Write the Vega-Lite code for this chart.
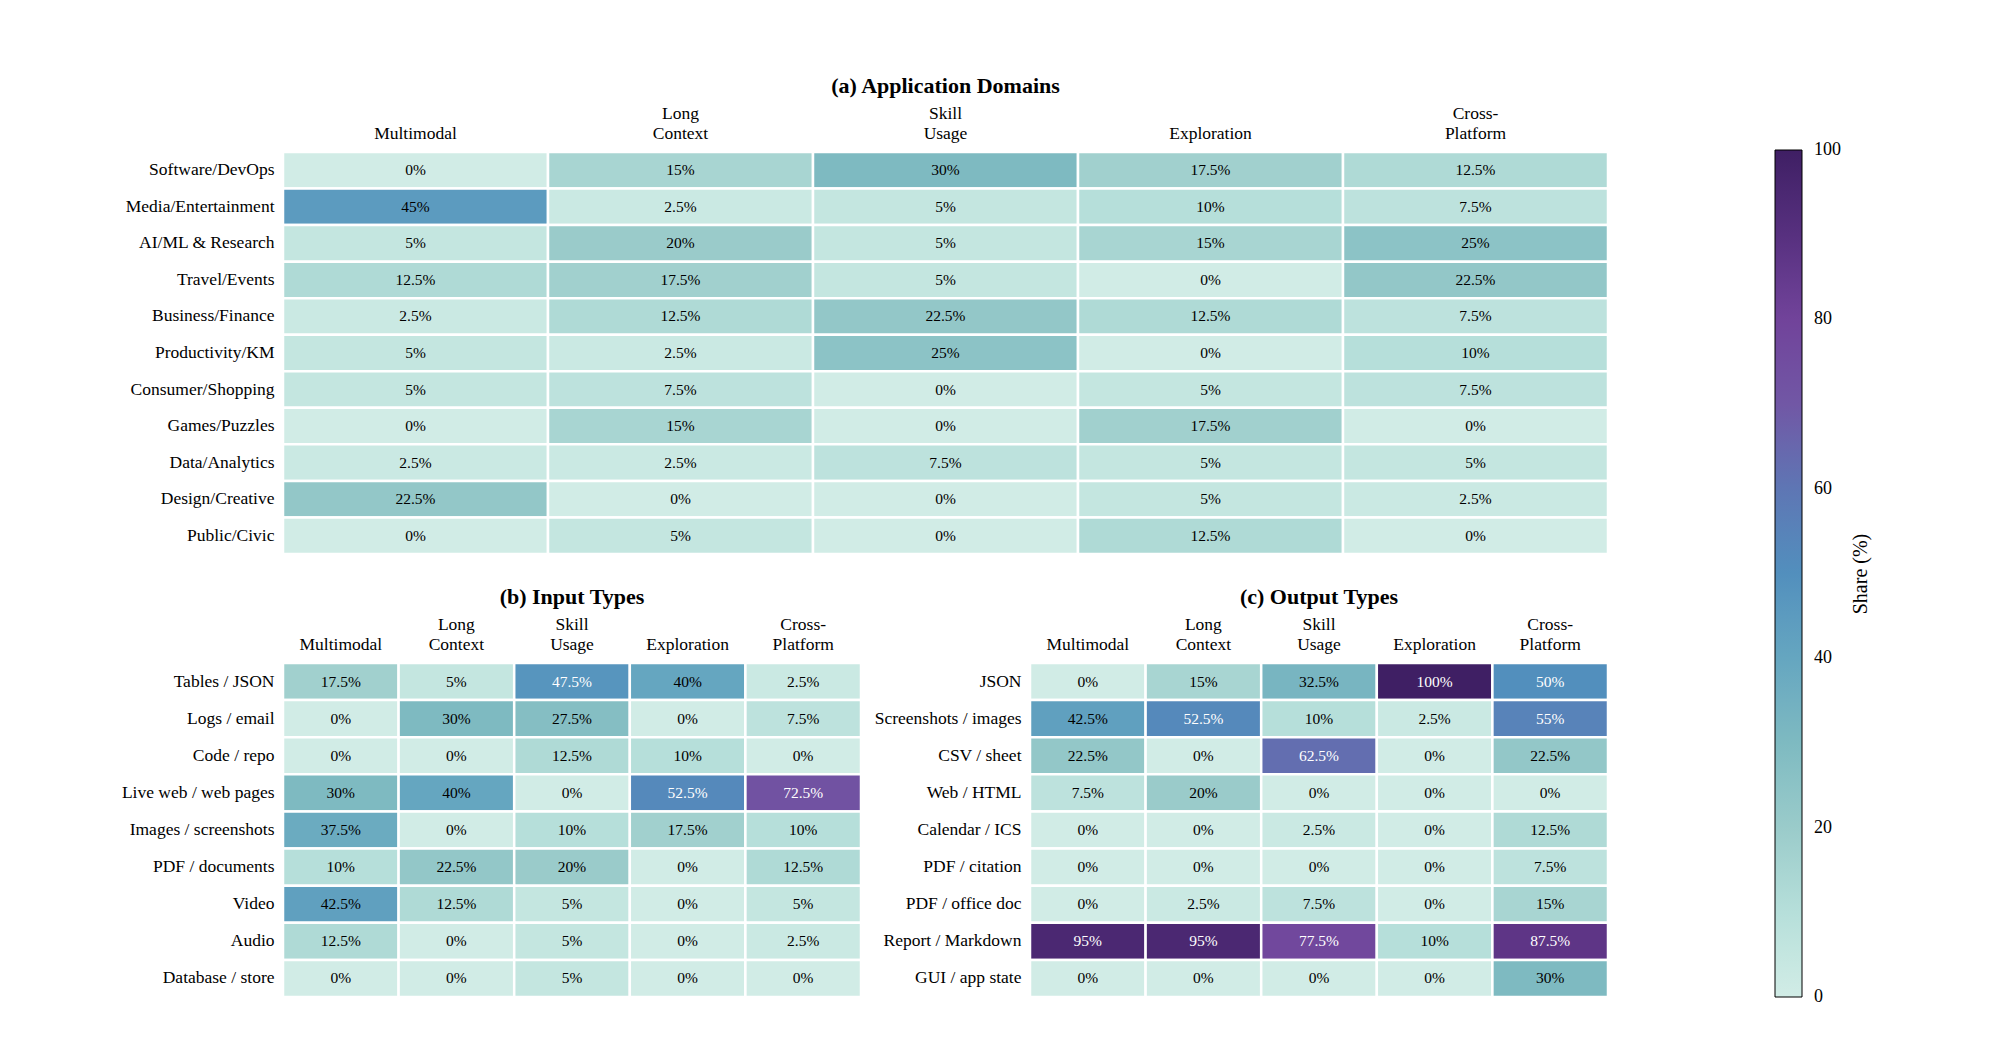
{
  "$schema": "https://vega.github.io/schema/vega-lite/v6.json",
  "background": "white",
  "padding": {"left": 121, "top": 75, "right": 10, "bottom": 10},
  "datasets": {
    "domains": [
      {"r": "Software/DevOps", "c": "Multimodal", "v": 0},
      {"r": "Software/DevOps", "c": "Long Context", "v": 15},
      {"r": "Software/DevOps", "c": "Skill Usage", "v": 30},
      {"r": "Software/DevOps", "c": "Exploration", "v": 17.5},
      {"r": "Software/DevOps", "c": "Cross-Platform", "v": 12.5},
      {"r": "Media/Entertainment", "c": "Multimodal", "v": 45},
      {"r": "Media/Entertainment", "c": "Long Context", "v": 2.5},
      {"r": "Media/Entertainment", "c": "Skill Usage", "v": 5},
      {"r": "Media/Entertainment", "c": "Exploration", "v": 10},
      {"r": "Media/Entertainment", "c": "Cross-Platform", "v": 7.5},
      {"r": "AI/ML & Research", "c": "Multimodal", "v": 5},
      {"r": "AI/ML & Research", "c": "Long Context", "v": 20},
      {"r": "AI/ML & Research", "c": "Skill Usage", "v": 5},
      {"r": "AI/ML & Research", "c": "Exploration", "v": 15},
      {"r": "AI/ML & Research", "c": "Cross-Platform", "v": 25},
      {"r": "Travel/Events", "c": "Multimodal", "v": 12.5},
      {"r": "Travel/Events", "c": "Long Context", "v": 17.5},
      {"r": "Travel/Events", "c": "Skill Usage", "v": 5},
      {"r": "Travel/Events", "c": "Exploration", "v": 0},
      {"r": "Travel/Events", "c": "Cross-Platform", "v": 22.5},
      {"r": "Business/Finance", "c": "Multimodal", "v": 2.5},
      {"r": "Business/Finance", "c": "Long Context", "v": 12.5},
      {"r": "Business/Finance", "c": "Skill Usage", "v": 22.5},
      {"r": "Business/Finance", "c": "Exploration", "v": 12.5},
      {"r": "Business/Finance", "c": "Cross-Platform", "v": 7.5},
      {"r": "Productivity/KM", "c": "Multimodal", "v": 5},
      {"r": "Productivity/KM", "c": "Long Context", "v": 2.5},
      {"r": "Productivity/KM", "c": "Skill Usage", "v": 25},
      {"r": "Productivity/KM", "c": "Exploration", "v": 0},
      {"r": "Productivity/KM", "c": "Cross-Platform", "v": 10},
      {"r": "Consumer/Shopping", "c": "Multimodal", "v": 5},
      {"r": "Consumer/Shopping", "c": "Long Context", "v": 7.5},
      {"r": "Consumer/Shopping", "c": "Skill Usage", "v": 0},
      {"r": "Consumer/Shopping", "c": "Exploration", "v": 5},
      {"r": "Consumer/Shopping", "c": "Cross-Platform", "v": 7.5},
      {"r": "Games/Puzzles", "c": "Multimodal", "v": 0},
      {"r": "Games/Puzzles", "c": "Long Context", "v": 15},
      {"r": "Games/Puzzles", "c": "Skill Usage", "v": 0},
      {"r": "Games/Puzzles", "c": "Exploration", "v": 17.5},
      {"r": "Games/Puzzles", "c": "Cross-Platform", "v": 0},
      {"r": "Data/Analytics", "c": "Multimodal", "v": 2.5},
      {"r": "Data/Analytics", "c": "Long Context", "v": 2.5},
      {"r": "Data/Analytics", "c": "Skill Usage", "v": 7.5},
      {"r": "Data/Analytics", "c": "Exploration", "v": 5},
      {"r": "Data/Analytics", "c": "Cross-Platform", "v": 5},
      {"r": "Design/Creative", "c": "Multimodal", "v": 22.5},
      {"r": "Design/Creative", "c": "Long Context", "v": 0},
      {"r": "Design/Creative", "c": "Skill Usage", "v": 0},
      {"r": "Design/Creative", "c": "Exploration", "v": 5},
      {"r": "Design/Creative", "c": "Cross-Platform", "v": 2.5},
      {"r": "Public/Civic", "c": "Multimodal", "v": 0},
      {"r": "Public/Civic", "c": "Long Context", "v": 5},
      {"r": "Public/Civic", "c": "Skill Usage", "v": 0},
      {"r": "Public/Civic", "c": "Exploration", "v": 12.5},
      {"r": "Public/Civic", "c": "Cross-Platform", "v": 0}
    ],
    "inputs": [
      {"r": "Tables / JSON", "c": "Multimodal", "v": 17.5},
      {"r": "Tables / JSON", "c": "Long Context", "v": 5},
      {"r": "Tables / JSON", "c": "Skill Usage", "v": 47.5},
      {"r": "Tables / JSON", "c": "Exploration", "v": 40},
      {"r": "Tables / JSON", "c": "Cross-Platform", "v": 2.5},
      {"r": "Logs / email", "c": "Multimodal", "v": 0},
      {"r": "Logs / email", "c": "Long Context", "v": 30},
      {"r": "Logs / email", "c": "Skill Usage", "v": 27.5},
      {"r": "Logs / email", "c": "Exploration", "v": 0},
      {"r": "Logs / email", "c": "Cross-Platform", "v": 7.5},
      {"r": "Code / repo", "c": "Multimodal", "v": 0},
      {"r": "Code / repo", "c": "Long Context", "v": 0},
      {"r": "Code / repo", "c": "Skill Usage", "v": 12.5},
      {"r": "Code / repo", "c": "Exploration", "v": 10},
      {"r": "Code / repo", "c": "Cross-Platform", "v": 0},
      {"r": "Live web / web pages", "c": "Multimodal", "v": 30},
      {"r": "Live web / web pages", "c": "Long Context", "v": 40},
      {"r": "Live web / web pages", "c": "Skill Usage", "v": 0},
      {"r": "Live web / web pages", "c": "Exploration", "v": 52.5},
      {"r": "Live web / web pages", "c": "Cross-Platform", "v": 72.5},
      {"r": "Images / screenshots", "c": "Multimodal", "v": 37.5},
      {"r": "Images / screenshots", "c": "Long Context", "v": 0},
      {"r": "Images / screenshots", "c": "Skill Usage", "v": 10},
      {"r": "Images / screenshots", "c": "Exploration", "v": 17.5},
      {"r": "Images / screenshots", "c": "Cross-Platform", "v": 10},
      {"r": "PDF / documents", "c": "Multimodal", "v": 10},
      {"r": "PDF / documents", "c": "Long Context", "v": 22.5},
      {"r": "PDF / documents", "c": "Skill Usage", "v": 20},
      {"r": "PDF / documents", "c": "Exploration", "v": 0},
      {"r": "PDF / documents", "c": "Cross-Platform", "v": 12.5},
      {"r": "Video", "c": "Multimodal", "v": 42.5},
      {"r": "Video", "c": "Long Context", "v": 12.5},
      {"r": "Video", "c": "Skill Usage", "v": 5},
      {"r": "Video", "c": "Exploration", "v": 0},
      {"r": "Video", "c": "Cross-Platform", "v": 5},
      {"r": "Audio", "c": "Multimodal", "v": 12.5},
      {"r": "Audio", "c": "Long Context", "v": 0},
      {"r": "Audio", "c": "Skill Usage", "v": 5},
      {"r": "Audio", "c": "Exploration", "v": 0},
      {"r": "Audio", "c": "Cross-Platform", "v": 2.5},
      {"r": "Database / store", "c": "Multimodal", "v": 0},
      {"r": "Database / store", "c": "Long Context", "v": 0},
      {"r": "Database / store", "c": "Skill Usage", "v": 5},
      {"r": "Database / store", "c": "Exploration", "v": 0},
      {"r": "Database / store", "c": "Cross-Platform", "v": 0}
    ],
    "outputs": [
      {"r": "JSON", "c": "Multimodal", "v": 0},
      {"r": "JSON", "c": "Long Context", "v": 15},
      {"r": "JSON", "c": "Skill Usage", "v": 32.5},
      {"r": "JSON", "c": "Exploration", "v": 100},
      {"r": "JSON", "c": "Cross-Platform", "v": 50},
      {"r": "Screenshots / images", "c": "Multimodal", "v": 42.5},
      {"r": "Screenshots / images", "c": "Long Context", "v": 52.5},
      {"r": "Screenshots / images", "c": "Skill Usage", "v": 10},
      {"r": "Screenshots / images", "c": "Exploration", "v": 2.5},
      {"r": "Screenshots / images", "c": "Cross-Platform", "v": 55},
      {"r": "CSV / sheet", "c": "Multimodal", "v": 22.5},
      {"r": "CSV / sheet", "c": "Long Context", "v": 0},
      {"r": "CSV / sheet", "c": "Skill Usage", "v": 62.5},
      {"r": "CSV / sheet", "c": "Exploration", "v": 0},
      {"r": "CSV / sheet", "c": "Cross-Platform", "v": 22.5},
      {"r": "Web / HTML", "c": "Multimodal", "v": 7.5},
      {"r": "Web / HTML", "c": "Long Context", "v": 20},
      {"r": "Web / HTML", "c": "Skill Usage", "v": 0},
      {"r": "Web / HTML", "c": "Exploration", "v": 0},
      {"r": "Web / HTML", "c": "Cross-Platform", "v": 0},
      {"r": "Calendar / ICS", "c": "Multimodal", "v": 0},
      {"r": "Calendar / ICS", "c": "Long Context", "v": 0},
      {"r": "Calendar / ICS", "c": "Skill Usage", "v": 2.5},
      {"r": "Calendar / ICS", "c": "Exploration", "v": 0},
      {"r": "Calendar / ICS", "c": "Cross-Platform", "v": 12.5},
      {"r": "PDF / citation", "c": "Multimodal", "v": 0},
      {"r": "PDF / citation", "c": "Long Context", "v": 0},
      {"r": "PDF / citation", "c": "Skill Usage", "v": 0},
      {"r": "PDF / citation", "c": "Exploration", "v": 0},
      {"r": "PDF / citation", "c": "Cross-Platform", "v": 7.5},
      {"r": "PDF / office doc", "c": "Multimodal", "v": 0},
      {"r": "PDF / office doc", "c": "Long Context", "v": 2.5},
      {"r": "PDF / office doc", "c": "Skill Usage", "v": 7.5},
      {"r": "PDF / office doc", "c": "Exploration", "v": 0},
      {"r": "PDF / office doc", "c": "Cross-Platform", "v": 15},
      {"r": "Report / Markdown", "c": "Multimodal", "v": 95},
      {"r": "Report / Markdown", "c": "Long Context", "v": 95},
      {"r": "Report / Markdown", "c": "Skill Usage", "v": 77.5},
      {"r": "Report / Markdown", "c": "Exploration", "v": 10},
      {"r": "Report / Markdown", "c": "Cross-Platform", "v": 87.5},
      {"r": "GUI / app state", "c": "Multimodal", "v": 0},
      {"r": "GUI / app state", "c": "Long Context", "v": 0},
      {"r": "GUI / app state", "c": "Skill Usage", "v": 0},
      {"r": "GUI / app state", "c": "Exploration", "v": 0},
      {"r": "GUI / app state", "c": "Cross-Platform", "v": 30}
    ]
  },
  "bounds": "flush",
  "spacing": 109,
  "vconcat": [
    {
      "title": "(a) Application Domains",
      "width": 1325,
      "height": 402,
      "data": {"name": "domains"},
      "transform": [{"calculate": "datum.v + '%'", "as": "lbl"}],
      "encoding": {
        "x": {"field": "c", "type": "nominal", "sort": null, "title": null,
              "scale": {"paddingInner": 0, "paddingOuter": 0},
              "axis": {"orient": "top", "labelAngle": 0, "labelPadding": 30, "labelLineHeight": 20,
                       "labelExpr": "datum.value == 'Long Context' ? ['Long', 'Context'] : datum.value == 'Skill Usage' ? ['Skill', 'Usage'] : datum.value == 'Cross-Platform' ? ['Cross-', 'Platform'] : ['', datum.value]"}},
        "y": {"field": "r", "type": "nominal", "sort": null, "title": null,
              "scale": {"paddingInner": 0, "paddingOuter": 0}}
      },
      "layer": [
        {
          "mark": {"type": "rect", "stroke": "white", "strokeWidth": 2.5},
          "encoding": {
            "color": {"field": "v", "type": "quantitative",
              "scale": {"domain": [0, 10, 20, 30, 40, 50, 60, 70, 80, 90, 100],
                        "range": ["#d1ece6", "#b6dfda", "#9acbca", "#7ebac1", "#65a6c0", "#528fbd", "#5e76b4", "#7157a5", "#71439a", "#57307f", "#3f1f64"],
                        "interpolate": "rgb"},
              "legend": {
                "orient": "none", "legendX": 1492, "legendY": -2, "direction": "vertical",
                "gradientLength": 847, "gradientThickness": 27,
                "gradientStrokeColor": "black", "gradientStrokeWidth": 1,
                "values": [0, 20, 40, 60, 80, 100],
                "labelFont": "Liberation Serif", "labelFontSize": 18, "labelColor": "black", "labelOffset": 12,
                "labelBaseline": "middle", "labelOverlap": false,
                "title": "Share (%)", "titleOrient": "right", "titleAnchor": "middle",
                "titleFont": "Liberation Serif", "titleFontSize": 20, "titleFontWeight": "normal", "titleColor": "black",
                "titlePadding": 30,
                "encode": {
                  "title": {"update": {"angle": {"value": 270}}},
                  "labels": {"update": {"baseline": {"value": "middle"}}}
                }
              }}
          }
        },
        {
          "mark": {"type": "text", "fontSize": 15.5, "font": "Liberation Serif"},
          "encoding": {
            "text": {"field": "lbl"},
            "color": {"condition": {"test": "datum.v > 46", "value": "white"}, "value": "black"}
          }
        }
      ]
    },
    {
      "bounds": "flush",
      "spacing": 169,
      "hconcat": [
        {
          "title": "(b) Input Types",
          "width": 578,
          "height": 334,
          "data": {"name": "inputs"},
          "transform": [{"calculate": "datum.v + '%'", "as": "lbl"}],
          "encoding": {
            "x": {"field": "c", "type": "nominal", "sort": null, "title": null,
                  "scale": {"paddingInner": 0, "paddingOuter": 0},
                  "axis": {"orient": "top", "labelAngle": 0, "labelPadding": 30, "labelLineHeight": 20,
                           "labelExpr": "datum.value == 'Long Context' ? ['Long', 'Context'] : datum.value == 'Skill Usage' ? ['Skill', 'Usage'] : datum.value == 'Cross-Platform' ? ['Cross-', 'Platform'] : ['', datum.value]"}},
            "y": {"field": "r", "type": "nominal", "sort": null, "title": null,
                  "scale": {"paddingInner": 0, "paddingOuter": 0}}
          },
          "layer": [
            {
              "mark": {"type": "rect", "stroke": "white", "strokeWidth": 2.5},
              "encoding": {
                "color": {"field": "v", "type": "quantitative",
                  "scale": {"domain": [0, 10, 20, 30, 40, 50, 60, 70, 80, 90, 100],
                            "range": ["#d1ece6", "#b6dfda", "#9acbca", "#7ebac1", "#65a6c0", "#528fbd", "#5e76b4", "#7157a5", "#71439a", "#57307f", "#3f1f64"],
                            "interpolate": "rgb"}}
              }
            },
            {
              "mark": {"type": "text", "fontSize": 15.5, "font": "Liberation Serif"},
              "encoding": {
                "text": {"field": "lbl"},
                "color": {"condition": {"test": "datum.v > 46", "value": "white"}, "value": "black"}
              }
            }
          ]
        },
        {
          "title": "(c) Output Types",
          "width": 578,
          "height": 334,
          "data": {"name": "outputs"},
          "transform": [{"calculate": "datum.v + '%'", "as": "lbl"}],
          "encoding": {
            "x": {"field": "c", "type": "nominal", "sort": null, "title": null,
                  "scale": {"paddingInner": 0, "paddingOuter": 0},
                  "axis": {"orient": "top", "labelAngle": 0, "labelPadding": 30, "labelLineHeight": 20,
                           "labelExpr": "datum.value == 'Long Context' ? ['Long', 'Context'] : datum.value == 'Skill Usage' ? ['Skill', 'Usage'] : datum.value == 'Cross-Platform' ? ['Cross-', 'Platform'] : ['', datum.value]"}},
            "y": {"field": "r", "type": "nominal", "sort": null, "title": null,
                  "scale": {"paddingInner": 0, "paddingOuter": 0}}
          },
          "layer": [
            {
              "mark": {"type": "rect", "stroke": "white", "strokeWidth": 2.5},
              "encoding": {
                "color": {"field": "v", "type": "quantitative",
                  "scale": {"domain": [0, 10, 20, 30, 40, 50, 60, 70, 80, 90, 100],
                            "range": ["#d1ece6", "#b6dfda", "#9acbca", "#7ebac1", "#65a6c0", "#528fbd", "#5e76b4", "#7157a5", "#71439a", "#57307f", "#3f1f64"],
                            "interpolate": "rgb"}}
              }
            },
            {
              "mark": {"type": "text", "fontSize": 15.5, "font": "Liberation Serif"},
              "encoding": {
                "text": {"field": "lbl"},
                "color": {"condition": {"test": "datum.v > 46", "value": "white"}, "value": "black"}
              }
            }
          ]
        }
      ]
    }
  ],
  "config": {
    "font": "Liberation Serif",
    "view": {"stroke": null},
    "axis": {"domain": false, "ticks": false, "grid": false, "labelFont": "Liberation Serif", "labelFontSize": 17.5, "labelColor": "black", "labelPadding": 9, "labelLimit": 300},
    "title": {"font": "Liberation Serif", "fontSize": 22, "fontWeight": "bold", "color": "black", "offset": 6, "anchor": "middle"}
  }
}
